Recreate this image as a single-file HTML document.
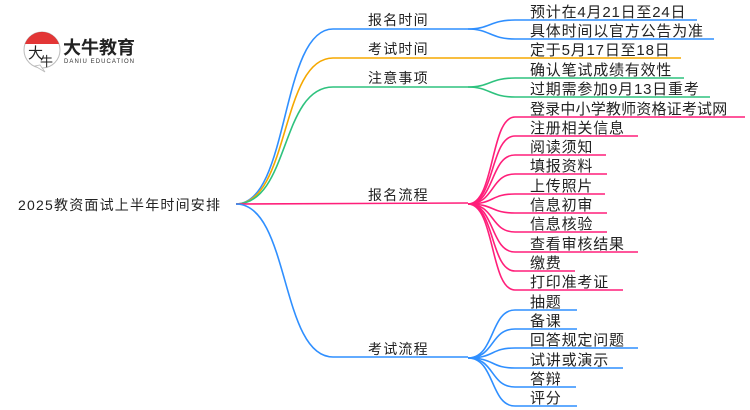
<!DOCTYPE html>
<html><head><meta charset="utf-8"><style>
html,body{margin:0;padding:0;background:#fff;}
svg{display:block;}
text{font-family:"Liberation Sans","Noto Sans CJK SC",sans-serif;fill:#222;}
.l2{letter-spacing:0.8px;}
.l1{letter-spacing:1.2px;}
</style></head><body>
<svg width="750" height="410" viewBox="0 0 750 410" xmlns="http://www.w3.org/2000/svg">
<circle cx="42" cy="50" r="18" fill="#fff" stroke="#bbb" stroke-width="1"/>
<path d="M25 44 A18 18 0 0 1 59 44 Z" fill="#e02020" opacity="0.9"/>
<path d="M35 66 L45 72 L40 65 Z" fill="#fff" stroke="#bbb" stroke-width="0.8"/>
<text x="28" y="58" font-size="15" style="fill:#222">大</text>
<text x="40" y="66" font-size="13" style="fill:#222">牛</text>
<text x="63" y="54" font-size="18" font-weight="bold" style="fill:#222">大牛教育</text>
<text x="64" y="63" font-size="6" textLength="70" style="fill:#333">DANIU EDUCATION</text>

<text x="18" y="210" font-size="14" textLength="202">2025教资面试上半年时间安排</text>

<g fill="none" stroke-width="1.6">
<path d="M236 204 C290 204 280 29 333 29 L468 29" stroke="#2f8fff"/>
<path d="M236 204 C290 204 280 58 333 58 L468 58" stroke="#f5a800"/>
<path d="M236 204 C290 204 280 87 333 87 L468 87" stroke="#2ec27e"/>
<path d="M236 204 L468 203" stroke="#ff1f7a"/>
<path d="M236 204 C290 204 280 357 333 357 L468 357" stroke="#2f8fff"/>

<path d="M468 29 C490 29 490 20 515 20 L697 20" stroke="#2f8fff"/>
<path d="M468 29 C490 29 490 39 515 39 L714 39" stroke="#2f8fff"/>
<path d="M468 58 L681 58" stroke="#f5a800"/>
<path d="M468 87 C490 87 490 78 515 78 L684 78" stroke="#2ec27e"/>
<path d="M468 87 C490 87 490 97 515 97 L710 97" stroke="#2ec27e"/>
<g stroke="#ff1f7a">
<path d="M468 204 C495 204 490 117 515 117 L745 117"/>
<path d="M468 204 C495 204 490 136 515 136 L638 136"/>
<path d="M468 204 C495 204 490 155 515 155 L606 155"/>
<path d="M468 204 C495 204 490 174 515 174 L607 174"/>
<path d="M468 204 C495 204 490 194 515 194 L605 194"/>
<path d="M468 204 C495 204 490 213 515 213 L607 213"/>
<path d="M468 204 C495 204 490 232 515 232 L607 232"/>
<path d="M468 204 C495 204 490 252 515 252 L638 252"/>
<path d="M468 204 C495 204 490 271 515 271 L575 271"/>
<path d="M468 204 C495 204 490 290 515 290 L623 290"/>
</g>
<g stroke="#2f8fff">
<path d="M468 358 C495 358 490 310 515 310 L577 310"/>
<path d="M468 358 C495 358 490 329 515 329 L577 329"/>
<path d="M468 358 C495 358 490 348 515 348 L638 348"/>
<path d="M468 358 C495 358 490 368 515 368 L623 368"/>
<path d="M468 358 C495 358 490 387 515 387 L576 387"/>
<path d="M468 358 C495 358 490 406 515 406 L577 406"/>
</g>
</g>

<g font-size="14" class="l1">
<text x="368" y="25">报名时间</text>
<text x="368" y="54">考试时间</text>
<text x="368" y="83">注意事项</text>
<text x="368" y="200">报名流程</text>
<text x="368" y="354">考试流程</text>
</g>
<g font-size="15" class="l2">
<text x="530" y="17">预计在4月21日至24日</text>
<text x="530" y="36">具体时间以官方公告为准</text>
<text x="530" y="55">定于5月17日至18日</text>
<text x="530" y="75">确认笔试成绩有效性</text>
<text x="530" y="94">过期需参加9月13日重考</text>
<text x="530" y="114" textLength="198">登录中小学教师资格证考试网</text>
<text x="530" y="133">注册相关信息</text>
<text x="530" y="152">阅读须知</text>
<text x="530" y="171">填报资料</text>
<text x="530" y="191">上传照片</text>
<text x="530" y="210">信息初审</text>
<text x="530" y="229">信息核验</text>
<text x="530" y="249">查看审核结果</text>
<text x="530" y="268">缴费</text>
<text x="530" y="287">打印准考证</text>
<text x="530" y="307">抽题</text>
<text x="530" y="326">备课</text>
<text x="530" y="345">回答规定问题</text>
<text x="530" y="365">试讲或演示</text>
<text x="530" y="384">答辩</text>
<text x="530" y="403">评分</text>
</g>
</svg>
</body></html>
